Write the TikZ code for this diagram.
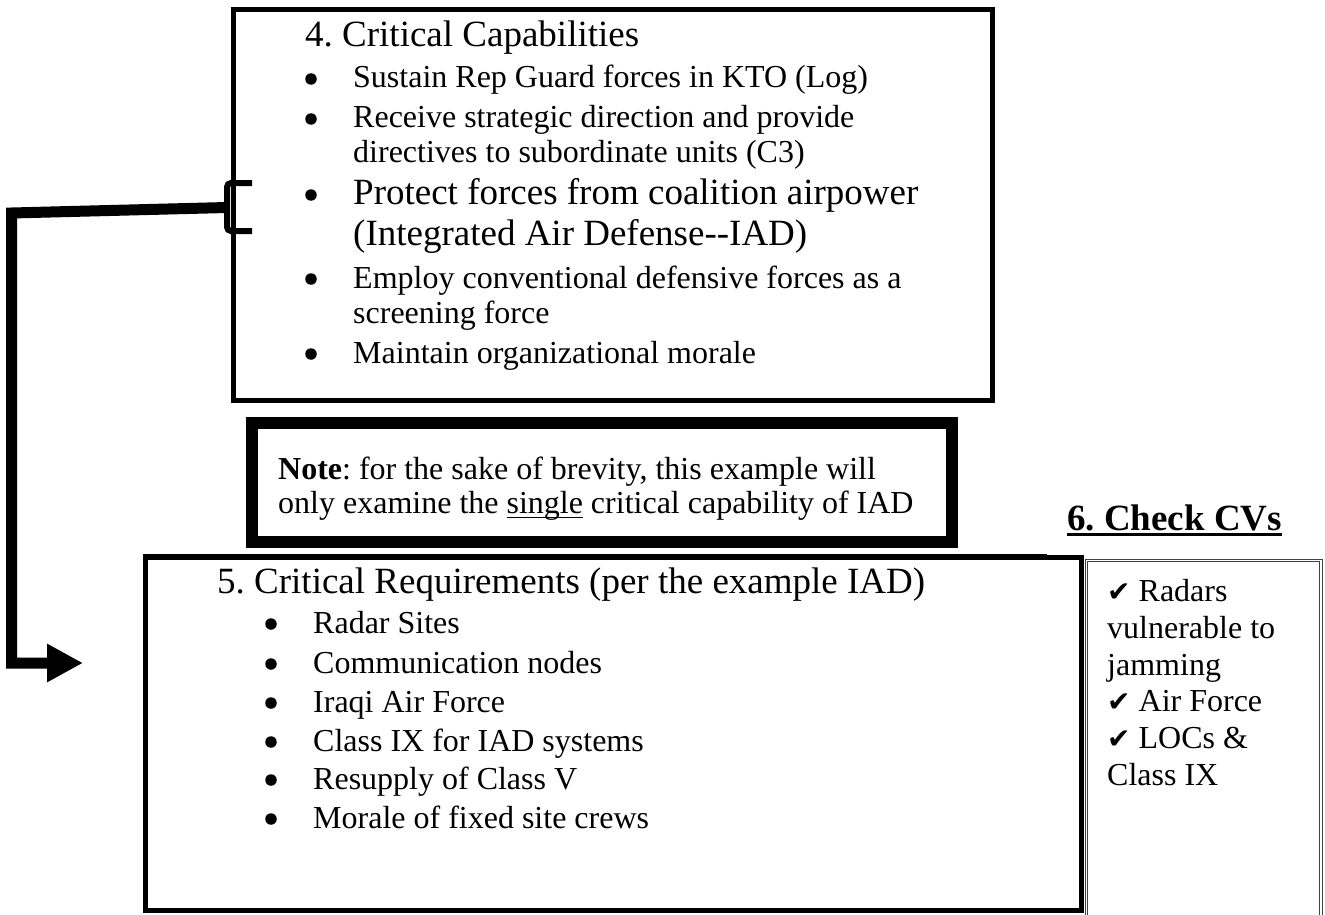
\documentclass[tikz,border=0pt]{standalone}
\usepackage{fontspec}
\setmainfont{Liberation Serif}
\newfontfamily\symfont{DejaVu Sans}
\usetikzlibrary{arrows.meta}

% underline with a rule sized to the current font
\newcommand\undl[2][0.05em]{\setbox0\hbox{#2}\rlap{\rule[-0.16em]{\wd0}{#1}}\box0\relax}
% check mark used in the CV list
\newcommand\chk{{\symfont\fontsize{28}{32}\selectfont ✔}}

\begin{document}
\frenchspacing
\begin{tikzpicture}[x=1pt,y=-1pt,
  sm/.style={anchor=base west,inner sep=0pt,font=\fontsize{32}{38}\selectfont},
  lg/.style={anchor=base west,inner sep=0pt,font=\fontsize{37}{44}\selectfont},
  dot/.style={circle,fill=black,inner sep=0pt,minimum size=11.5pt,yshift=9pt},
  frame/.style={draw,line width=5pt,inner sep=0pt,outer sep=0pt,anchor=north west},
  heavy/.style={draw,line width=12pt,inner sep=0pt,outer sep=0pt,anchor=north west},
  thinline/.style={draw=black!75,line width=0.9pt},
  bracket/.style={line width=6pt,rounded corners=4pt},
  link/.style={line width=11pt,-{Triangle[length=36pt,width=36pt]}}]
\useasboundingbox (0,0) rectangle (1325,915);

% box 4: critical capabilities
\node[frame,minimum width=759pt,minimum height=390pt] (caps) at (233,10) {};
\node[lg] (capsT) at (305,47) {4. Critical Capabilities};
\node[dot] (b1) at (311,88) {};
\node[sm] (c1) at (353,88) {Sustain Rep Guard forces in KTO (Log)};
\node[dot] (b2) at (311,128) {};
\node[sm] (c2) at (353,128) {Receive strategic direction and provide};
\node[sm] (c2b) at (353,163) {directives to subordinate units (C3)};
\node[dot] (b3) at (311,204) {};
\node[lg] (c3) at (353,204) {Protect forces from coalition airpower};
\node[lg] (c3b) at (353,245) {(Integrated Air Defense{-}{-}IAD)};
\node[dot] (b4) at (311,288) {};
\node[sm] (c4) at (353,288) {Employ conventional defensive forces as a};
\node[sm] (c4b) at (353,323) {screening force};
\node[dot] (b5) at (311,363) {};
\node[sm] (c5) at (353,363) {Maintain organizational morale};

% bracket on the IAD item and the connector down to box 5
\coordinate (brk) at (227,207.5);
\draw[bracket] (252,183) -- (227,183) -- (227,231) -- (252,231);
\coordinate (tip) at (83,663);
\draw[link] (brk) -- (11.5,213) |- (tip);

% note box
\node[heavy,minimum width=700pt,minimum height=119pt] (note) at (252,423) {};
\node[sm] (n1) at (278,479) {\textbf{Note}: for the sake of brevity, this example will};
\node[sm] (n2) at (278,513) {only examine the \undl{single} critical capability of IAD};

% box 5: critical requirements
\node[frame,minimum width=936pt,minimum height=352.5pt] (reqs) at (145,557.5) {};
\draw[line width=4pt] (reqs.north west) ++(-2.5,-2) -- (1047,555.5);
\node[lg] (reqsT) at (217,593) {5. Critical Requirements (per the example IAD)};
\node[dot] (r1d) at (271,633) {};
\node[sm] (r1) at (313,633) {Radar Sites};
\node[dot] (r2d) at (271,673) {};
\node[sm] (r2) at (313,673) {Communication nodes};
\node[dot] (r3d) at (271,712) {};
\node[sm] (r3) at (313,712) {Iraqi Air Force};
\node[dot] (r4d) at (271,751) {};
\node[sm] (r4) at (313,751) {Class IX for IAD systems};
\node[dot] (r5d) at (271,789) {};
\node[sm] (r5) at (313,789) {Resupply of Class V};
\node[dot] (r6d) at (271,828) {};
\node[sm] (r6) at (313,828) {Morale of fixed site crews};

% box 6: check CVs (thin double border, runs off the bottom edge)
\node[anchor=base west,inner sep=0pt,font=\fontsize{37}{44}\selectfont\bfseries] (cvT) at (1067,530) {\undl[0.07em]{6. Check CVs}};
\node[thinline,anchor=north west,inner sep=0pt,outer sep=0pt,minimum width=237pt,minimum height=370pt] (cvs) at (1085,559) {};
\draw[thinline] ([shift={(2.4,2.4)}]cvs.north west) rectangle ([shift={(-2.4,-2.4)}]cvs.south east);
\node[sm] (v1) at (1107,601) {\chk\ Radars};
\node[sm] (v1b) at (1107,638) {vulnerable to};
\node[sm] (v1c) at (1107,675) {jamming};
\node[sm] (v2) at (1107,711) {\chk\ Air Force};
\node[sm] (v3) at (1107,748) {\chk\ LOCs \&};
\node[sm] (v3b) at (1107,785) {Class IX};
\end{tikzpicture}
\end{document}
